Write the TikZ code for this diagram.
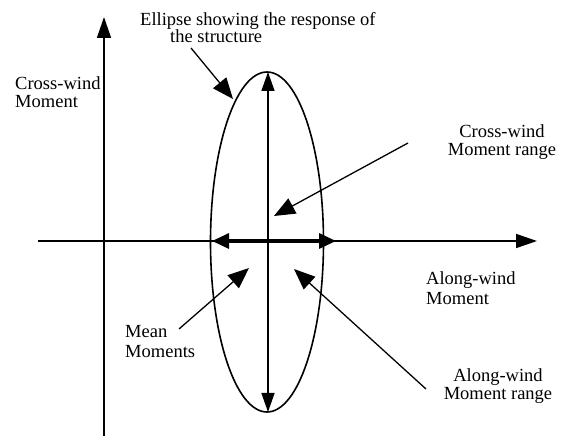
\documentclass[tikz,border=0pt]{standalone}
\usepackage{fontspec}
\setmainfont{Liberation Serif}
\usetikzlibrary{arrows.meta,shapes.geometric}
\begin{document}
\begin{tikzpicture}[x=1pt,y=-1pt,
  lbl/.style={inner sep=0pt},
  axis/.style={line width=1.6pt,-{Triangle[length=21pt,width=14pt]}},
  ptr/.style={line width=1.3pt,-{Triangle[length=21pt,width=17pt]}},
  rng/.style={line width=1.5pt,{Triangle[length=19pt,width=13pt]}-{Triangle[length=19pt,width=13pt]}},
  thick rng/.style={line width=3.2pt,{Triangle[length=17pt,width=15pt]}-{Triangle[length=17pt,width=15pt]}}]
\useasboundingbox (0,0) rectangle (563,443);
% axes
\coordinate (ybot) at (104,436);
\coordinate (ytop) at (104,17);
\coordinate (xl) at (38,241);
\coordinate (xr) at (537,241);
\draw[axis] (ybot) -- (ytop);
\draw[axis] (xl) -- (xr);
% ellipse
\node[draw,ellipse,line width=1.6pt,minimum width=113pt,minimum height=340pt,inner sep=0pt] (ell) at (267,242) {};
\coordinate (vt) at (268,72);
\coordinate (vb) at (268,412);
\draw[rng] (vb) -- (vt);
\coordinate (hl) at (212,241);
\coordinate (hr) at (336,241);
\draw[thick rng] (hl) -- (hr);
% labels
\node[lbl,anchor=north west,align=left,font=\fontsize{18.5}{17.5}\selectfont] (tell) at (140,12) {Ellipse showing the response of\\\hspace*{30pt}the structure};
\node[lbl,anchor=north west,align=left,font=\fontsize{18.5}{18}\selectfont] (tcm) at (15,76) {Cross-wind\\Moment};
\node[lbl,anchor=north,align=center,font=\fontsize{18.5}{18}\selectfont] (tcr) at (502,124) {Cross-wind\\Moment range};
\node[lbl,anchor=north west,align=left,font=\fontsize{18.5}{20}\selectfont] (tam) at (426,271) {Along-wind\\Moment};
\node[lbl,anchor=north west,align=left,font=\fontsize{18.5}{20}\selectfont] (tmm) at (125,325) {Mean\\Moments};
\node[lbl,anchor=north,align=center,font=\fontsize{18.5}{18.5}\selectfont] (tar) at (498,368) {Along-wind\\Moment range};
% pointer arrows
\coordinate (p1s) at (191,48);  \coordinate (p1e) at (233,99);
\coordinate (p2s) at (408,143); \coordinate (p2e) at (274,216);
\coordinate (p3s) at (179,329); \coordinate (p3e) at (249,268);
\coordinate (p4s) at (426,389); \coordinate (p4e) at (294,269);
\draw[ptr] (p1s) -- (p1e);
\draw[ptr] (p2s) -- (p2e);
\draw[ptr] (p3s) -- (p3e);
\draw[ptr] (p4s) -- (p4e);
\end{tikzpicture}
\end{document}
